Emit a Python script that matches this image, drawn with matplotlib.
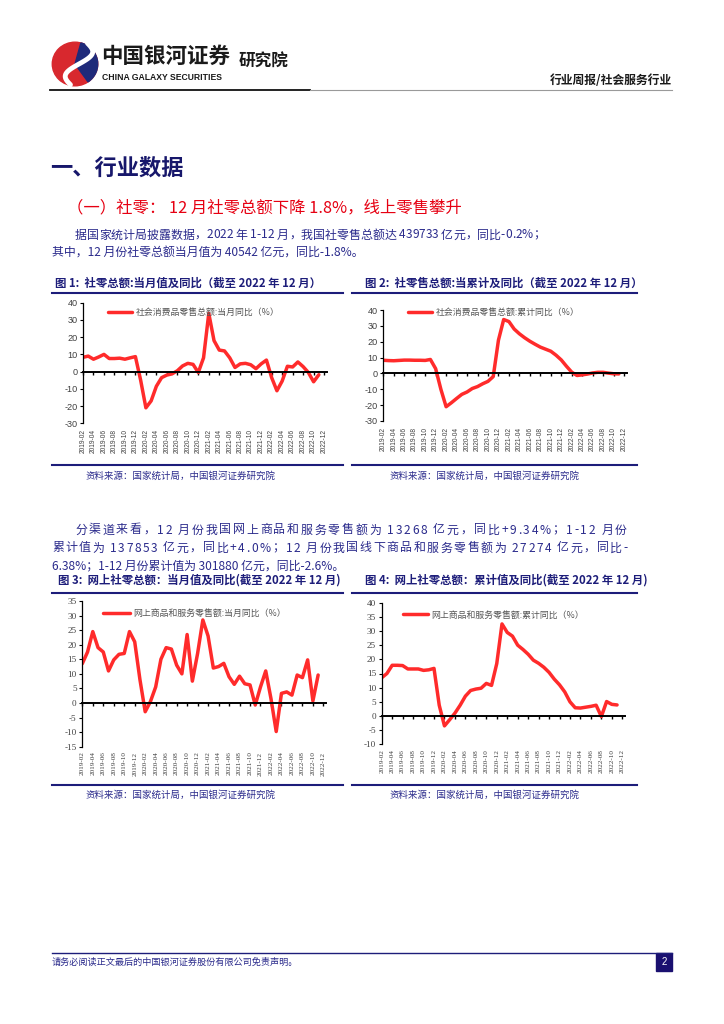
import numpy as np
import matplotlib.pyplot as plt
from matplotlib.patches import Circle, Wedge, Rectangle
from matplotlib.lines import Line2D

plt.rcParams['font.family'] = ['Noto Sans CJK SC', 'DejaVu Sans']
plt.rcParams['axes.unicode_minus'] = False

# x labels, every second month
xlabels = ['2019-02', '2019-04', '2019-06', '2019-08', '2019-10', '2019-12',
           '2020-02', '2020-04', '2020-06', '2020-08', '2020-10', '2020-12',
           '2021-02', '2021-04', '2021-06', '2021-08', '2021-10', '2021-12',
           '2022-02', '2022-04', '2022-06', '2022-08', '2022-10', '2022-12']

# 图1 社零当月同比
retail_month = [8.3, 9.0, 7.2, 8.5, 10.0, 7.6, 7.6, 7.8, 7.2, 8.0, 8.7,
                -5.0, -21.0, -17.0, -8.5, -3.5, -2.0, -1.3, 0.5, 3.3, 4.8, 4.2, -0.5,
                8.0, 33.8, 18.0, 12.5, 12.0, 8.0, 2.4, 4.5, 4.8, 4.0, 1.7, 4.5, 6.7,
                -3.5, -11.1, -5.5, 3.1, 2.7, 5.6, 2.9, -0.5, -5.9, -1.8]
# 图2 社零累计同比
retail_cum = [8.3, 8.1, 8.0, 8.2, 8.4, 8.4, 8.3, 8.3, 8.2, 8.8,
              3.0, -10.0, -21.0,
              -18.5, -15.8, -13.2, -11.7, -9.5, -8.3, -6.5, -5.0, -2.0,
              21.0, 34.0, 32.7, 28.0, 25.0, 22.5, 20.3, 18.4, 16.6, 15.3, 14.0, 11.5,
              8.5, 4.5, 0.8, -1.3, -0.9, -0.4, 0.3, 0.7, 0.7, 0.2, -0.2, -0.3]
# 图3 网上零售当月同比
online_month = [13.5, 17.5, 24.5, 19.0, 17.5, 11.0, 14.8, 16.7, 17.0, 24.5,
                21.0, 8.0, -3.0, 0.5, 5.5, 15.0, 19.0, 18.5, 13.0, 10.0,
                23.5, 7.5, 17.0, 28.5, 23.0, 12.0, 12.5, 13.6, 9.0, 6.4,
                9.2, 6.6, 6.2, -0.7, 5.5, 11.0, 1.5, -9.8, 3.3, 3.8,
                2.7, 9.6, 8.7, 14.8, 0.7, 9.6]
# 图4 网上零售累计同比
online_cum = [13.5, 15.0, 17.9, 17.9, 17.8, 16.6, 16.6, 16.6, 16.1, 16.3, 16.8,
              3.8, -3.5, -1.3, 1.0, 3.8, 7.0, 9.0, 9.5, 9.8, 11.5, 10.8,
              18.5, 32.5, 29.5, 28.2, 25.0, 23.5, 21.8, 19.7, 18.6, 17.2, 15.4, 13.0,
              11.0, 8.5, 5.0, 2.9, 2.8, 3.1, 3.4, 3.8, -0.2, 5.1, 4.1, 3.9]

W, H = 724, 1024
navy = '#1d1d7a'
textblue = '#2b2b8c'
red = '#ff2b2b'

fig = plt.figure(figsize=(7.24, 10.24), dpi=100)
renderer = fig.canvas.get_renderer()


def fx(x):
    return x / W


def fy(y):
    return 1 - y / H


def txt(x, y, s, **kw):
    return fig.text(fx(x), fy(y), s, va='center', **kw)


def justify(x0, x1, y, s, **kw):
    # even letter spacing so the line runs from x0 to x1
    items = [txt(0, y, ch, **kw) for ch in s]
    widths = [it.get_window_extent(renderer).width if ch != ' ' else 2.5
              for it, ch in zip(items, s)]
    gap = (x1 - x0 - sum(widths)) / (len(items) - 1)
    x = x0
    for it, w in zip(items, widths):
        it.set_x(fx(x))
        x += w + gap


def hline(x0, x1, y, color, lw):
    fig.add_artist(Line2D([fx(x0), fx(x1)], [fy(y), fy(y)], color=color, lw=lw))


def chart(box, values, ylim, ystep, legend, leg_xy, handle, numfont, xsize, pad):
    left, right, top, bottom = box
    ax = fig.add_axes([fx(left), fy(bottom), (right - left) / W, (bottom - top) / H])
    ax.plot(np.arange(len(values)), values, color=red, lw=2.5,
            solid_joinstyle='round', solid_capstyle='round', label=legend)
    ax.set_xlim(0, 46.5)
    ax.set_ylim(ylim)
    ax.set_yticks(np.arange(ylim[0], ylim[1] + 1, ystep))
    ax.spines['top'].set_visible(False)
    ax.spines['right'].set_visible(False)
    ax.spines['bottom'].set_position(('data', 0))
    ax.spines['bottom'].set_linewidth(1.4)
    ax.spines['left'].set_linewidth(0.9)
    ax.set_xticks(np.arange(0, 47, 2))
    ax.tick_params(axis='x', labelbottom=False, length=2.5, width=1.0, direction='out')
    ax.tick_params(axis='y', length=2.5, width=0.8, direction='out', pad=1.5,
                   labelsize=6.6, labelcolor='#404040')
    for lab in ax.get_yticklabels():
        lab.set_family(numfont)
    ax.patch.set_alpha(0)
    sec = ax.secondary_xaxis('bottom')
    sec.set_xticks(np.arange(0, 47, 2), xlabels)
    sec.tick_params(length=0, pad=pad, labelsize=xsize, labelcolor='#404040')
    for lab in sec.get_xticklabels():
        lab.set_rotation(90)
        lab.set_family(numfont)
    sec.spines['bottom'].set_visible(False)
    ax.legend(loc='center left', bbox_to_anchor=leg_xy, frameon=False,
              fontsize=6.4, labelcolor='#555555', handlelength=handle,
              handletextpad=0.4, borderpad=0, borderaxespad=0)
    return ax


# ---- header ----
lax = fig.add_axes([fx(50), fy(88), 50 / W, 48 / H])
lax.set_xlim(-1.1, 1.1)
lax.set_ylim(-1.1, 1.1)
lax.axis('off')
lax.add_patch(Circle((0, 0), 1.0, color='#d8282e'))
lax.add_patch(Wedge((0, 0), 1.0, -55, 75, color='#1f2a7a'))
t = np.linspace(0, 1, 60)
lax.plot(0.55 - 0.75 * t + 0.4 * np.sin(2 * np.pi * t), 0.95 - 1.9 * t,
         color='white', lw=3.5, solid_capstyle='round')

txt(101, 56, '中国银河证券', fontsize=15.5, fontweight='bold', color='#1a1a1a')
txt(102, 77, 'CHINA GALAXY SECURITIES', fontsize=6.2, fontweight='bold',
    color='#1a1a1a', family='Liberation Sans')
txt(239, 62, '研究院', fontsize=12, fontweight='bold', color='#1a1a1a')
txt(672, 80, '行业周报/社会服务行业', fontsize=8.5, fontweight='bold',
    color='#1a1a1a', ha='right')
hline(50, 310, 90, '#111111', 1.3)
hline(310, 672, 90, '#9a9a9a', 0.8)

# ---- body text ----
body = dict(fontsize=8.6, color=textblue)
txt(50, 168, '一、行业数据', fontsize=16, fontweight='bold', color='#17176b')
txt(67, 208, '（一）社零： 12 月社零总额下降 1.8%，线上零售攀升', fontsize=11.8,
    color='#e60012')
justify(75, 545, 235, '据国家统计局披露数据，2022 年 1-12 月，我国社零售总额达 439733 亿元，同比-0.2%；', **body)
txt(52, 253, '其中，12 月份社零总额当月值为 40542 亿元，同比-1.8%。', **body)

justify(75, 627, 530, '分渠道来看，12 月份我国网上商品和服务零售额为 13268 亿元，同比+9.34%；1-12 月份', **body)
justify(52, 628, 548, '累计值为 137853 亿元，同比+4.0%；12 月份我国线下商品和服务零售额为 27274 亿元，同比-', **body)
txt(52, 566, '6.38%；1-12 月份累计值为 301880 亿元，同比-2.6%。', **body)

# ---- chart titles, rules, sources ----
txt(55, 283, '图 1:  社零总额:当月值及同比（截至 2022 年 12 月）', fontsize=8.2,
    fontweight='bold', color=navy)
txt(365, 283, '图 2:  社零售总额:当累计及同比（截至 2022 年 12 月）', fontsize=8.2,
    fontweight='bold', color=navy)
txt(58, 580, '图 3:  网上社零总额：当月值及同比(截至 2022 年 12 月)', fontsize=8.2,
    fontweight='bold', color=navy)
txt(365, 580, '图 4:  网上社零总额：累计值及同比(截至 2022 年 12 月)', fontsize=8.2,
    fontweight='bold', color=navy)
for y in (292.5, 465, 593, 785):
    hline(52, 343, y, navy, 1.5)
    hline(352, 637, y, navy, 1.5)
src = '资料来源：国家统计局，中国银河证券研究院'
txt(86, 476, src, fontsize=6.8, color=textblue)
txt(390, 476, src, fontsize=6.8, color=textblue)
txt(85, 795, src, fontsize=6.8, color=textblue)
txt(390, 795, src, fontsize=6.8, color=textblue)

# ---- charts ----
chart((83, 326.7, 302.7, 423.3), retail_month, (-30, 40), 10,
      '社会消费品零售总额:当月同比（%）', (0.103, 0.917), 2.7,
      'Liberation Sans', 4.8, 4.0)
chart((383.3, 626.7, 310, 421), retail_cum, (-30, 40), 10,
      '社会消费品零售总额:累计同比（%）', (0.103, 0.979), 2.7,
      'Liberation Sans', 4.8, 4.0)
chart((82.3, 326, 601, 746.7), online_month, (-15, 35), 5,
      '网上商品和服务零售额:当月同比（%）', (0.085, 0.916), 3.0,
      'Liberation Serif', 5.2, 3.5)
chart((381.7, 624.9, 602.7, 744.3), online_cum, (-10, 40), 5,
      '网上商品和服务零售额:累计同比（%）', (0.088, 0.913), 2.8,
      'Liberation Serif', 5.2, 3.5)

# ---- footer ----
hline(52, 672, 953, navy, 1.0)
txt(52, 962, '请务必阅读正文最后的中国银河证券股份有限公司免责声明。', fontsize=6.6, color=textblue)
fig.add_artist(Rectangle((fx(656), fy(971)), 16 / W, 18 / H, color='#1a1070'))
txt(664, 962, '2', fontsize=7, color='white', ha='center', family='Liberation Sans')

fig.savefig('out.png', dpi=100)
